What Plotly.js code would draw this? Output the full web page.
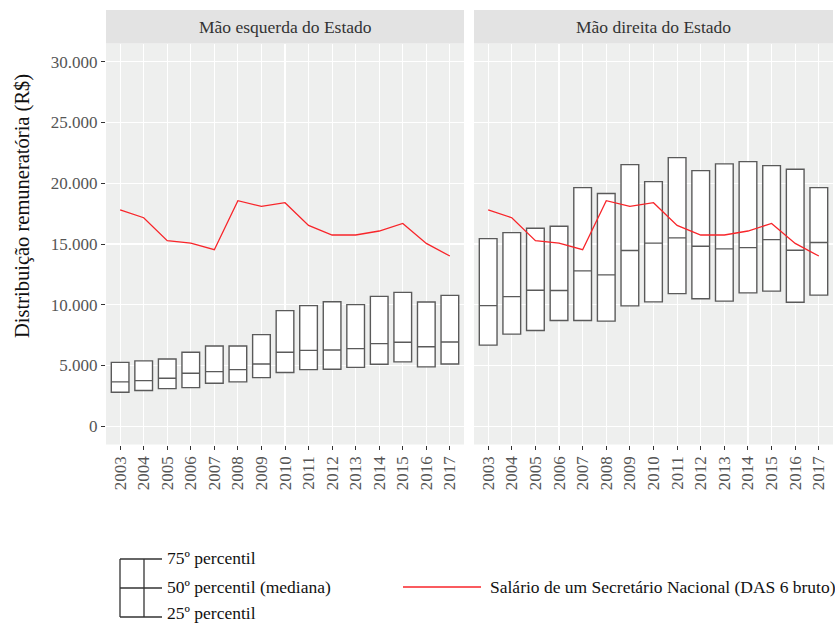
<!DOCTYPE html>
<html>
<head>
<meta charset="utf-8">
<script src="https://cdn.plot.ly/plotly-3.0.1.min.js"></script>
<style>html,body{margin:0;padding:0;background:#fff;}#chart{width:835px;height:623px;}</style>
</head>
<body>
<div id="chart"></div>
<script>
// ---- Data ----
const years = ['2003','2004','2005','2006','2007','2008','2009','2010','2011','2012','2013','2014','2015','2016','2017'];
const panelNames = ['Mão esquerda do Estado', 'Mão direita do Estado'];

// Mão esquerda do Estado
const leftQ1     = [2800, 2940, 3100, 3180, 3540, 3650, 4000, 4420, 4660, 4690, 4850, 5100, 5300, 4890, 5130];
const leftMedian = [3650, 3760, 3950, 4360, 4500, 4660, 5130, 6090, 6250, 6280, 6390, 6800, 6910, 6550, 6940];
const leftQ3     = [5260, 5380, 5540, 6090, 6610, 6610, 7540, 9520, 9930, 10250, 10010, 10690, 11020, 10230, 10770];

// Mão direita do Estado
const rightQ1     = [6680, 7580, 7880, 8700, 8700, 8650, 9910, 10240, 10920, 10490, 10300, 10980, 11120, 10210, 10790];
const rightMedian = [9930, 10670, 11200, 11170, 12790, 12460, 14460, 15070, 15500, 14820, 14600, 14700, 15360, 14490, 15120];
const rightQ3     = [15440, 15940, 16300, 16460, 19640, 19150, 21530, 20130, 22110, 21040, 21590, 21780, 21450, 21150, 19640];

// Salário de um Secretário Nacional (DAS 6 bruto)
const salario = [17800, 17160, 15270, 15080, 14530, 18560, 18090, 18400, 16530, 15740, 15740, 16070, 16690, 15050, 14010];

const legendLabels = ['75º percentil', '50º percentil (mediana)', '25º percentil'];
const lineLabel = 'Salário de um Secretário Nacional (DAS 6 bruto)';
const yTitle = 'Distribuição remuneratória (R$)';

// ---- Layout helpers ----
const W = 835, H = 623;
const px = x => x / W;
const py = y => 1 - y / H;
const FONT = 'Liberation Serif, Times New Roman, serif';
const boxColor = '#5a5a5a';
const red = '#F8252A';

function boxTrace(q1, med, q3, xa) {
  return {
    type: 'box', x: years, q1: q1, median: med, q3: q3,
    lowerfence: q1, upperfence: q3,
    xaxis: xa, yaxis: 'y',
    width: 0.75,
    fillcolor: '#ffffff',
    line: {color: boxColor, width: 1.4},
    whiskerwidth: 0,
    boxpoints: false,
    showlegend: false, hoverinfo: 'skip'
  };
}
function lineTrace(xa) {
  return {
    type: 'scatter', mode: 'lines', x: years, y: salario,
    xaxis: xa, yaxis: 'y',
    line: {color: red, width: 1.3},
    showlegend: false, hoverinfo: 'skip'
  };
}

const data = [
  boxTrace(leftQ1, leftMedian, leftQ3, 'x'),
  lineTrace('x'),
  boxTrace(rightQ1, rightMedian, rightQ3, 'x2'),
  lineTrace('x2')
];

const L0 = 106, L1 = 464, R0 = 474, R1 = 833;
const TOP = 43.5, BOT = 444.5, STRIP_TOP = 10;

const xaxisBase = {
  type: 'category',
  range: [-0.6, 14.6],
  showgrid: true, gridcolor: '#ffffff', gridwidth: 1.1,
  zeroline: false, showline: false,
  ticks: 'outside', ticklen: 4, tickcolor: '#333333', tickwidth: 1,
  tickangle: -90,
  tickfont: {family: FONT, size: 17, color: '#555555'},
  anchor: 'y', automargin: false, fixedrange: true
};

const shapes = [
  // strips
  {type: 'rect', xref: 'paper', yref: 'paper', x0: px(L0), x1: px(L1), y0: py(TOP), y1: py(STRIP_TOP), fillcolor: '#E3E3E3', line: {width: 0}, layer: 'below'},
  {type: 'rect', xref: 'paper', yref: 'paper', x0: px(R0), x1: px(R1), y0: py(TOP), y1: py(STRIP_TOP), fillcolor: '#E3E3E3', line: {width: 0}, layer: 'below'},
  // legend box glyph
  {type: 'line', xref: 'paper', yref: 'paper', x0: px(120), x1: px(120), y0: py(559), y1: py(617), line: {color: '#333', width: 1.3}},
  {type: 'line', xref: 'paper', yref: 'paper', x0: px(144), x1: px(144), y0: py(559), y1: py(617), line: {color: '#333', width: 1.3}},
  {type: 'line', xref: 'paper', yref: 'paper', x0: px(120), x1: px(162), y0: py(559), y1: py(559), line: {color: '#333', width: 1.3}},
  {type: 'line', xref: 'paper', yref: 'paper', x0: px(120), x1: px(162), y0: py(588), y1: py(588), line: {color: '#333', width: 1.3}},
  {type: 'line', xref: 'paper', yref: 'paper', x0: px(120), x1: px(162), y0: py(617), y1: py(617), line: {color: '#333', width: 1.3}},
  // legend red line
  {type: 'line', xref: 'paper', yref: 'paper', x0: px(403), x1: px(481), y0: py(587), y1: py(587), line: {color: red, width: 1.3}}
];

const annotations = [
  {text: panelNames[0], xref: 'paper', yref: 'paper', x: px((L0 + L1) / 2), y: py((TOP + STRIP_TOP) / 2), showarrow: false, xanchor: 'center', yanchor: 'middle', font: {family: FONT, size: 17.5, color: '#333333'}},
  {text: panelNames[1], xref: 'paper', yref: 'paper', x: px((R0 + R1) / 2), y: py((TOP + STRIP_TOP) / 2), showarrow: false, xanchor: 'center', yanchor: 'middle', font: {family: FONT, size: 17.5, color: '#333333'}},
  {text: yTitle, xref: 'paper', yref: 'paper', x: px(22), y: py(206), textangle: -90, showarrow: false, xanchor: 'center', yanchor: 'middle', font: {family: FONT, size: 20.5, color: '#111'}},
  {text: legendLabels[0], xref: 'paper', yref: 'paper', x: px(165), y: py(558), showarrow: false, xanchor: 'left', yanchor: 'middle', font: {family: FONT, size: 17.5, color: '#111'}},
  {text: legendLabels[1], xref: 'paper', yref: 'paper', x: px(165), y: py(587), showarrow: false, xanchor: 'left', yanchor: 'middle', font: {family: FONT, size: 17.5, color: '#111'}},
  {text: legendLabels[2], xref: 'paper', yref: 'paper', x: px(165), y: py(613), showarrow: false, xanchor: 'left', yanchor: 'middle', font: {family: FONT, size: 17.5, color: '#111'}},
  {text: lineLabel, xref: 'paper', yref: 'paper', x: px(488), y: py(587), showarrow: false, xanchor: 'left', yanchor: 'middle', font: {family: FONT, size: 17.5, color: '#111'}}
];

const layout = {
  width: W, height: H,
  margin: {l: 0, r: 0, t: 0, b: 0, pad: 0},
  paper_bgcolor: '#ffffff',
  plot_bgcolor: '#EEEFEE',
  separators: ',.',
  showlegend: false,
  xaxis: Object.assign({}, xaxisBase, {domain: [px(L0), px(L1)]}),
  xaxis2: Object.assign({}, xaxisBase, {domain: [px(R0), px(R1)]}),
  yaxis: {
    domain: [py(BOT), py(TOP)],
    range: [-1500, 31500],
    tickvals: [0, 5000, 10000, 15000, 20000, 25000, 30000],
    tickformat: ',d',
    showgrid: true, gridcolor: '#ffffff', gridwidth: 1.1,
    zeroline: false, showline: false,
    ticks: 'outside', ticklen: 4, tickcolor: '#333333', tickwidth: 1,
    tickfont: {family: FONT, size: 17, color: '#555555'},
    automargin: false, fixedrange: true
  },
  shapes: shapes,
  annotations: annotations
};

Plotly.newPlot('chart', data, layout, {staticPlot: true, displayModeBar: false});
</script>
</body>
</html>
